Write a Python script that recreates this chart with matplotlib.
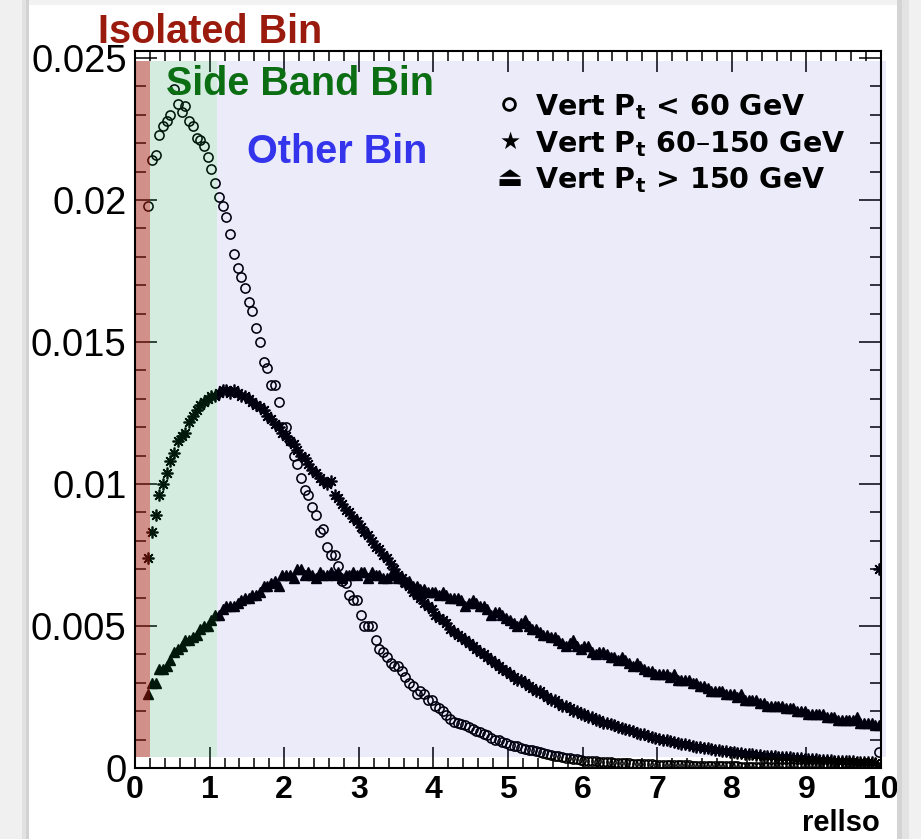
import numpy as np
import matplotlib
matplotlib.use("Agg")
import matplotlib.pyplot as plt
from matplotlib.patches import Rectangle
from matplotlib.lines import Line2D
from matplotlib.ticker import MultipleLocator

# normalised rellso distributions, 0.05 wide bins starting at 0.15 (last bin holds overflow)
pt_low = [
    0.0198, 0.0214, 0.0216, 0.0223, 0.0226, 0.0228, 0.0230, 0.0239, 0.0234, 0.0231,
    0.0233, 0.0228, 0.0226, 0.0222, 0.0221, 0.0219, 0.0215, 0.0211, 0.0206, 0.0201,
    0.0198, 0.0194, 0.0188, 0.0181, 0.0176, 0.0173, 0.0169, 0.0164, 0.0161, 0.0155,
    0.0150, 0.0143, 0.0141, 0.0135, 0.0135, 0.0129, 0.0120, 0.0120, 0.0115, 0.0110,
    0.0107, 0.0102, 0.0098, 0.0096, 0.0092, 0.0089, 0.0083, 0.0084, 0.0078, 0.0075,
    0.0075, 0.0071, 0.0066, 0.0065, 0.0061, 0.0059, 0.0059, 0.0054, 0.0050, 0.0050,
    0.0050, 0.0045, 0.0042, 0.0041, 0.0039, 0.0037, 0.0036, 0.0036, 0.0034, 0.0032,
    0.0030, 0.0029, 0.0026, 0.0027, 0.0026, 0.0024, 0.0024, 0.0022, 0.0021, 0.0020,
    0.00185, 0.00172, 0.00163, 0.0016, 0.00155, 0.00151, 0.00145, 0.00137, 0.00132, 0.00126,
    0.0012, 0.00116, 0.00105, 0.00097, 0.00099, 0.0009, 0.00087, 0.00082, 0.00078, 0.00076,
    0.00071, 0.00068, 0.00065, 0.00062, 0.0006, 0.00055, 0.00052, 0.00051, 0.00047, 0.00044,
    0.00041, 0.00039, 0.00036, 0.00034, 0.00033, 0.0003, 0.00028, 0.00026, 0.00025, 0.00024,
    0.00023, 0.00022, 0.00022, 0.0002, 0.0002, 0.00019, 0.00018, 0.00017, 0.00017, 0.00016,
    0.00015, 0.00015, 0.00014, 0.00014, 0.00013, 0.00013, 0.00012, 0.00012, 0.00011, 0.00011,
    0.0001, 0.0001, 0.0001, 0.00009, 0.00009, 0.00009, 0.00008, 0.00008, 0.00008, 0.00008,
    0.00007, 0.00007, 0.00007, 0.00007, 0.00006, 0.00006, 0.00006, 0.00006, 0.00006, 0.00005,
    0.00005, 0.00005, 0.00005, 0.00005, 0.00005, 0.00004, 0.00004, 0.00004, 0.00004, 0.00004,
    0.00004, 0.00004, 0.00004, 0.00003, 0.00003, 0.00003, 0.00003, 0.00003, 0.00003, 0.00003,
    0.00003, 0.00003, 0.00003, 0.00003, 0.00002, 0.00002, 0.00002, 0.00003, 0.00002, 0.00002,
    0.00002, 0.00002, 0.00002, 0.00002, 0.00002, 0.00002, 0.00056,
]
pt_mid = [
    0.0074, 0.0083, 0.0089, 0.0096, 0.0100, 0.0104, 0.0108, 0.0111, 0.0115, 0.0117,
    0.0118, 0.0122, 0.0124, 0.0126, 0.0128, 0.0129, 0.0130, 0.0131, 0.0131, 0.0132,
    0.0133, 0.0133, 0.0132, 0.0133, 0.0132, 0.0131, 0.0131, 0.0130, 0.0129, 0.0128,
    0.0127, 0.0126, 0.0124, 0.0123, 0.0121, 0.0120, 0.0118, 0.0117, 0.0115, 0.0114,
    0.0112, 0.0110, 0.0109, 0.0107, 0.0105, 0.0104, 0.0102, 0.0101, 0.0100, 0.0101,
    0.0096, 0.0095, 0.0093, 0.0091, 0.0090, 0.0088, 0.0087, 0.0085, 0.0083, 0.0082,
    0.0080, 0.0078, 0.0077, 0.0075, 0.0074, 0.0072, 0.0070, 0.0068, 0.0067, 0.0065,
    0.0064, 0.0062, 0.0061, 0.0060, 0.0058, 0.0057, 0.0056, 0.0054, 0.0053, 0.0052,
    0.0051, 0.0049, 0.0048, 0.0047, 0.0046, 0.0045, 0.0044, 0.0043, 0.0042, 0.0041,
    0.0040, 0.0039, 0.0038, 0.0037, 0.0036, 0.0035, 0.0034, 0.0033, 0.0032, 0.0031,
    0.0031, 0.0030, 0.0029, 0.0028, 0.0027, 0.0027, 0.0026, 0.0025, 0.0024, 0.0024,
    0.0023, 0.0022, 0.0022, 0.0021, 0.0020, 0.0020, 0.0019, 0.0019, 0.0018, 0.0018,
    0.0017, 0.0017, 0.0016, 0.0016, 0.00155, 0.0015, 0.00146, 0.00141, 0.00137, 0.00133,
    0.00129, 0.00125, 0.00121, 0.00118, 0.00114, 0.0011, 0.00107, 0.00103, 0.001, 0.00097,
    0.00094, 0.00091, 0.00088, 0.00086, 0.00083, 0.0008, 0.00078, 0.00075, 0.00073, 0.00071,
    0.00069, 0.00067, 0.00065, 0.00063, 0.00061, 0.00059, 0.00058, 0.00056, 0.00054, 0.00053,
    0.00051, 0.0005, 0.00048, 0.00047, 0.00046, 0.00044, 0.00043, 0.00042, 0.00041, 0.0004,
    0.00039, 0.00038, 0.00037, 0.00036, 0.00035, 0.00034, 0.00033, 0.00032, 0.00031, 0.0003,
    0.00029, 0.00028, 0.00028, 0.00027, 0.00026, 0.00025, 0.00025, 0.00024, 0.00023, 0.00023,
    0.00022, 0.00021, 0.00021, 0.0002, 0.0002, 0.00019, 0.0070,
]
pt_high = [
    0.0026, 0.0030, 0.0030, 0.0035, 0.0035, 0.0036, 0.0038, 0.0041, 0.0042, 0.0043,
    0.0045, 0.0045, 0.0046, 0.0047, 0.0049, 0.0050, 0.0050, 0.0052, 0.0054, 0.0054,
    0.0056, 0.0057, 0.0057, 0.0057, 0.0058, 0.0059, 0.0060, 0.0060, 0.0061, 0.0061,
    0.0062, 0.0064, 0.0064, 0.0065, 0.0066, 0.0064, 0.0068, 0.0068, 0.0068, 0.0067,
    0.0070, 0.0070, 0.0068, 0.0069, 0.0068, 0.0067, 0.0069, 0.0068, 0.0068, 0.0069,
    0.0068, 0.0069, 0.0067, 0.0068, 0.0068, 0.0069, 0.0068, 0.0069, 0.0069, 0.0067,
    0.0069, 0.0068, 0.0068, 0.0067, 0.0067, 0.0068, 0.0068, 0.0067, 0.0067, 0.0066,
    0.0066, 0.0064, 0.0064, 0.0063, 0.0063, 0.0062, 0.0062, 0.0062, 0.0061, 0.0062,
    0.0061, 0.0060, 0.0060, 0.0060, 0.0059, 0.0057, 0.0058, 0.0059, 0.0058, 0.0057,
    0.0057, 0.0056, 0.0054, 0.0055, 0.0055, 0.0054, 0.0053, 0.0052, 0.0051, 0.0050,
    0.0051, 0.0052, 0.0050, 0.0049, 0.0049, 0.0048, 0.0047, 0.0047, 0.0046, 0.0046,
    0.0045, 0.0044, 0.0043, 0.0044, 0.0045, 0.0043, 0.0042, 0.0043, 0.0043, 0.0041,
    0.0040, 0.0041, 0.0041, 0.0040, 0.0039, 0.0039, 0.0038, 0.0039, 0.0038, 0.0037,
    0.0036, 0.0037, 0.0036, 0.0035, 0.0034, 0.0034, 0.0033, 0.0033, 0.0033, 0.0033,
    0.0032, 0.0033, 0.0031, 0.0031, 0.0031, 0.0031, 0.0030, 0.0030, 0.0029, 0.0029,
    0.0028, 0.0027, 0.0027, 0.0027, 0.0027, 0.0026, 0.0026, 0.0026, 0.0025, 0.0026,
    0.0024, 0.0024, 0.0024, 0.0024, 0.0023, 0.0023, 0.0022, 0.0022, 0.0022, 0.0022,
    0.0022, 0.0021, 0.0021, 0.0021, 0.0020, 0.0020, 0.0020, 0.0019, 0.0019, 0.0019,
    0.0019, 0.0019, 0.0018, 0.0018, 0.0018, 0.0017, 0.0017, 0.0017, 0.0017, 0.0017,
    0.0018, 0.0016, 0.0016, 0.0016, 0.0016, 0.0015, 0.0015,
]
legend_labels = [r"Vert P$_\mathbf{t}$ < 60 GeV",
                 r"Vert P$_\mathbf{t}$ 60–150 GeV",
                 r"Vert P$_\mathbf{t}$ > 150 GeV"]
region_names = ["Isolated Bin", "Side Band Bin", "Other Bin"]
region_edges = [0.0, 0.2, 1.1, 10.07]
xtick_vals = list(range(11))
ytick_vals = [0, 0.005, 0.01, 0.015, 0.02, 0.025]
ytick_labels = ["0", "0.005", "0.01", "0.015", "0.02", "0.025"]

W, H = 921, 839


def fx(px):
    return px / W


def fy(py):
    return 1 - py / H


plt.rcParams["font.family"] = ["Liberation Sans", "DejaVu Sans"]
plt.rcParams["mathtext.fontset"] = "dejavusans"

fig = plt.figure(figsize=(W / 100, H / 100), dpi=100)
fig.patch.set_facecolor("white")
ax = fig.add_axes([fx(135), fy(768), (881 - 135) / W, (768 - 51) / H])

bin_width = 0.05
x = 0.15 + bin_width / 2 + bin_width * np.arange(len(pt_low))

ax.plot(x, pt_low, ls="none", marker="o", ms=6.6, mfc="none", mec="black", mew=1.15, zorder=2)
ax.plot(x, pt_mid, ls="none", marker=(8, 2, 0), ms=8.5, mec="black", mew=1.25, zorder=2)
ax.plot(x, pt_high, ls="none", marker="^", ms=7.2, color="black", zorder=2)

ax.set_xlim(0, 10)
ax.set_ylim(0, 0.02525)

# translucent region boxes drawn over the points (as in the original)
box_colors = [((165 / 255, 30 / 255, 16 / 255), 0.49),
              ((0, 143 / 255, 72 / 255), 0.17),
              ((5 / 255, 0, 194 / 255), 0.08)]
for k, (c, a) in enumerate(box_colors):
    x0, x1 = region_edges[k], region_edges[k + 1]
    ax.add_patch(Rectangle((x0, 0.0004), x1 - x0, 0.0245, facecolor=c, alpha=a,
                           edgecolor="none", zorder=3, clip_on=False))

ax.set_xticks(xtick_vals, labels=[str(v) for v in xtick_vals], fontweight="bold")
ax.set_yticks(ytick_vals, labels=ytick_labels)
ax.xaxis.set_minor_locator(MultipleLocator(0.2))
ax.yaxis.set_minor_locator(MultipleLocator(0.001))
ax.tick_params(which="both", direction="in", top=True, right=True, width=1.1, color="black")
ax.tick_params(axis="x", which="major", length=15, pad=5, labelsize=23)
ax.tick_params(axis="x", which="minor", length=7.5)
ax.tick_params(axis="y", which="major", length=16, pad=6, labelsize=27.5)
ax.tick_params(axis="y", which="minor", length=8)
for s in ax.spines.values():
    s.set_linewidth(1.5)
    s.set_zorder(6)

fig.text(fx(880), fy(831), "rellso", ha="right", va="baseline", fontsize=21, fontweight="bold")

# region names
fig.text(fx(98), fy(43), region_names[0], color="#9a1a0d", fontsize=28.5,
         fontweight="bold", va="baseline")
fig.text(fx(166), fy(95), region_names[1], color="#0b6e12", fontsize=28.5,
         fontweight="bold", va="baseline")
fig.text(fx(247), fy(163), region_names[2], color="#3434ec", fontsize=28.5,
         fontweight="bold", va="baseline")

# legend
fig.add_artist(Line2D([fx(509)], [fy(104)], marker="o", ms=8.5, mfc="none", mec="black",
                      mew=2.0, transform=fig.transFigure))
fig.text(fx(510), fy(142), "★", ha="center", va="center", fontsize=17, family="DejaVu Sans")
fig.text(fx(510), fy(178), "⏏", ha="center", va="center", fontsize=20, family="DejaVu Sans")
for lab, base in zip(legend_labels, [115, 152, 188]):
    fig.text(fx(535), fy(base), lab, fontsize=20.5, fontweight="bold",
             family="DejaVu Sans", va="baseline")

# window shadow around the screenshot
shadow = [(0, 22, "#f0f0f0"), (22, 26, "#e2e2e2"), (26, 29, "#d2d2d2"),
          (897, 902, "#d4d4d4"), (902, 909, "#e3e3e3"), (909, 921, "#f1f1f1")]
for x0, x1, c in shadow:
    fig.add_artist(Rectangle((fx(x0), 0), (x1 - x0) / W, 1, transform=fig.transFigure,
                             facecolor=c, edgecolor="none", zorder=10))
fig.add_artist(Rectangle((fx(29), fy(5)), (897 - 29) / W, 5 / H, transform=fig.transFigure,
                         facecolor="#f2f2f2", edgecolor="none", zorder=10))

fig.savefig("out.png", dpi=100)
